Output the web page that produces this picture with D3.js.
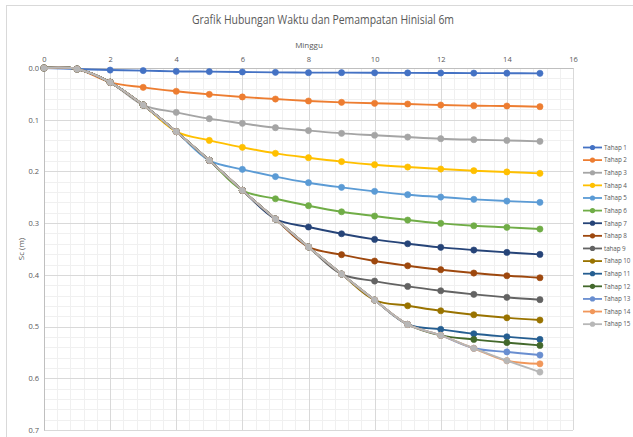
<!DOCTYPE html>
<html>
<head>
<meta charset="utf-8">
<script src="https://cdn.jsdelivr.net/npm/d3@7"></script>
<style>
  html, body { margin: 0; padding: 0; background: #fff; }
  svg { display: block; font-family: "Open Sans", "Noto Sans", sans-serif; }
</style>
</head>
<body>
<svg id="chart" width="633" height="437"></svg>
<script>
// Settlement (Sc, m) per loading stage over time (weeks)
const weeks = [0, 1, 2, 3, 4, 5, 6, 7, 8, 9, 10, 11, 12, 13, 14, 15];

const tahap1  = [0, 0.002, 0.004, 0.005, 0.0065, 0.007, 0.0077, 0.0084, 0.009, 0.009, 0.0093, 0.0095, 0.0097, 0.0099, 0.0100, 0.0103];
const tahap2  = [0, 0.002, 0.0277, 0.0374, 0.045, 0.051, 0.056, 0.060, 0.0638, 0.0664, 0.0683, 0.0696, 0.0716, 0.0729, 0.0735, 0.0748];
const tahap3  = [0, 0.002, 0.0277, 0.0716, 0.0858, 0.098, 0.107, 0.1154, 0.121, 0.1264, 0.130, 0.1335, 0.1367, 0.1386, 0.140, 0.1418];
const tahap4  = [0, 0.002, 0.0277, 0.0716, 0.123, 0.140, 0.1534, 0.165, 0.1735, 0.181, 0.187, 0.1915, 0.1954, 0.1986, 0.201, 0.2037];
const tahap5  = [0, 0.002, 0.0277, 0.0716, 0.123, 0.1786, 0.196, 0.210, 0.2218, 0.2308, 0.2385, 0.245, 0.2495, 0.254, 0.2573, 0.2598];
const tahap6  = [0, 0.002, 0.0277, 0.0716, 0.123, 0.1786, 0.2366, 0.2528, 0.2663, 0.278, 0.2863, 0.294, 0.3004, 0.305, 0.3081, 0.3114];
const tahap7  = [0, 0.002, 0.0277, 0.0716, 0.123, 0.1786, 0.2366, 0.292, 0.3075, 0.3205, 0.3314, 0.3398, 0.3468, 0.352, 0.3566, 0.3604];
const tahap8  = [0, 0.002, 0.0277, 0.0716, 0.123, 0.1786, 0.2366, 0.292, 0.346, 0.361, 0.3733, 0.3824, 0.390, 0.3965, 0.4017, 0.4056];
const tahap9  = [0, 0.002, 0.0277, 0.0716, 0.123, 0.1786, 0.2366, 0.292, 0.346, 0.3985, 0.412, 0.4223, 0.4307, 0.4377, 0.4435, 0.448];
const tahap10 = [0, 0.002, 0.0277, 0.0716, 0.123, 0.1786, 0.2366, 0.292, 0.346, 0.3985, 0.4487, 0.4597, 0.4694, 0.4771, 0.483, 0.4874];
const tahap11 = [0, 0.002, 0.0277, 0.0716, 0.123, 0.1786, 0.2366, 0.292, 0.346, 0.3985, 0.4487, 0.4958, 0.5054, 0.5139, 0.5197, 0.5248];
const tahap12 = [0, 0.002, 0.0277, 0.0716, 0.123, 0.1786, 0.2366, 0.292, 0.346, 0.3985, 0.4487, 0.4958, 0.517, 0.5248, 0.531, 0.5364];
const tahap13 = [0, 0.002, 0.0277, 0.0716, 0.123, 0.1786, 0.2366, 0.292, 0.346, 0.3985, 0.4487, 0.4958, 0.517, 0.542, 0.549, 0.5551];
const tahap14 = [0, 0.002, 0.0277, 0.0716, 0.123, 0.1786, 0.2366, 0.292, 0.346, 0.3985, 0.4487, 0.4958, 0.517, 0.542, 0.566, 0.572];
const tahap15 = [0, 0.002, 0.0277, 0.0716, 0.123, 0.1786, 0.2366, 0.292, 0.346, 0.3985, 0.4487, 0.4958, 0.517, 0.542, 0.566, 0.588];

const seriesNames = ["Tahap 1", "Tahap 2", "Tahap 3", "Tahap 4", "Tahap 5", "Tahap 6", "Tahap 7", "Tahap 8",
                     "tahap 9", "Tahap 10", "Tahap 11", "Tahap 12", "Tahap 13", "Tahap 14", "Tahap 15"];
const seriesValues = [tahap1, tahap2, tahap3, tahap4, tahap5, tahap6, tahap7, tahap8,
                      tahap9, tahap10, tahap11, tahap12, tahap13, tahap14, tahap15];
const seriesColors = ["#4472C4", "#ED7D31", "#A5A5A5", "#FFC000", "#5B9BD5", "#70AD47", "#264478", "#9E480E",
                      "#636363", "#997300", "#255E91", "#43682B", "#698ED0", "#F1975A", "#B7B7B7"];

const xTicks = [0, 2, 4, 6, 8, 10, 12, 14, 16];
const yTicks = [0, 0.1, 0.2, 0.3, 0.4, 0.5, 0.6, 0.7];

const titleText = "Grafik Hubungan Waktu dan Pemampatan Hinisial 6m";
const xTitle = "Minggu";
const yTitle = "Sc (m)";

const svg = d3.select("#chart");
const plot = { left: 44, right: 573, top: 68, bottom: 430 };

const x = d3.scaleLinear().domain([0, 16]).range([plot.left, plot.right]);
const y = d3.scaleLinear().domain([0, 0.7]).range([plot.top, plot.bottom]);

// chart frame lines
svg.append("line").attr("x1", 6).attr("x2", 633).attr("y1", 5.5).attr("y2", 5.5)
  .attr("stroke", "#d9d9d9").attr("stroke-width", 1);
svg.append("line").attr("x1", 6.5).attr("x2", 6.5).attr("y1", 5).attr("y2", 437)
  .attr("stroke", "#d9d9d9").attr("stroke-width", 1);

// minor grid
const grid = svg.append("g");
grid.selectAll("line.mx").data(d3.range(0, 16.001, 0.4)).join("line")
  .attr("x1", d => Math.round(x(d)) + 0.5).attr("x2", d => Math.round(x(d)) + 0.5)
  .attr("y1", plot.top).attr("y2", plot.bottom)
  .attr("stroke", "#f0f0f0");
grid.selectAll("line.my").data(d3.range(0, 0.7001, 0.02)).join("line")
  .attr("y1", d => Math.round(y(d)) + 0.5).attr("y2", d => Math.round(y(d)) + 0.5)
  .attr("x1", plot.left).attr("x2", plot.right)
  .attr("stroke", "#f0f0f0");

// major grid
grid.selectAll("line.Mx").data(xTicks).join("line")
  .attr("x1", d => Math.round(x(d)) + 0.5).attr("x2", d => Math.round(x(d)) + 0.5)
  .attr("y1", plot.top).attr("y2", plot.bottom)
  .attr("stroke", "#d9d9d9");
grid.selectAll("line.My").data(yTicks).join("line")
  .attr("y1", d => Math.round(y(d)) + 0.5).attr("y2", d => Math.round(y(d)) + 0.5)
  .attr("x1", plot.left).attr("x2", plot.right)
  .attr("stroke", "#d9d9d9");

// axes (x along the top, y reversed downward)
const xAxis = svg.append("g").attr("transform", `translate(0,${plot.top})`)
  .call(d3.axisTop(x).tickValues(xTicks).tickSize(0).tickPadding(6).tickFormat(d3.format("d")));
const yAxis = svg.append("g").attr("transform", `translate(${plot.left},0)`)
  .call(d3.axisLeft(y).tickValues(yTicks).tickSize(0).tickPadding(5).tickFormat(d3.format(".1f")));
[xAxis, yAxis].forEach(a => {
  a.select(".domain").attr("stroke", "#bfbfbf");
  a.selectAll("text").attr("fill", "#595959").style("font-size", "7.5px")
    .style("font-family", "'Open Sans', sans-serif");
});

// titles
svg.append("text").attr("x", 323).attr("y", 24).attr("text-anchor", "middle")
  .attr("fill", "#595959").style("font-size", "13px")
  .attr("textLength", 262).attr("lengthAdjust", "spacingAndGlyphs")
  .text(titleText);
svg.append("text").attr("x", 309).attr("y", 48).attr("text-anchor", "middle")
  .attr("fill", "#595959").style("font-size", "8px").text(xTitle);
svg.append("text").attr("transform", `translate(24,${(plot.top + plot.bottom) / 2}) rotate(-90)`)
  .attr("text-anchor", "middle").attr("fill", "#595959").style("font-size", "8px").text(yTitle);

// series lines and markers
const line = d3.line()
  .x((d, i) => x(weeks[i]))
  .y(d => y(d))
  .curve(d3.curveCatmullRom.alpha(0.5));

const series = svg.append("g");
seriesValues.forEach((vals, k) => {
  const g = series.append("g");
  g.append("path").attr("d", line(vals)).attr("fill", "none")
    .attr("stroke", seriesColors[k]).attr("stroke-width", 1.9);
  g.selectAll("circle").data(vals).join("circle")
    .attr("cx", (d, i) => x(weeks[i])).attr("cy", d => y(d)).attr("r", 3.1)
    .attr("fill", seriesColors[k]).attr("stroke", seriesColors[k]).attr("stroke-width", 0.6);
});

// legend
const legend = svg.append("g").attr("transform", "translate(583,147.5)");
seriesNames.forEach((name, k) => {
  const row = legend.append("g").attr("transform", `translate(0,${k * 12.62})`);
  row.append("line").attr("x1", 0).attr("x2", 19).attr("y1", 0).attr("y2", 0)
    .attr("stroke", seriesColors[k]).attr("stroke-width", 1.8);
  row.append("circle").attr("cx", 9.5).attr("cy", 0).attr("r", 2.6).attr("fill", seriesColors[k]);
  row.append("text").attr("x", 21).attr("y", 2.3).attr("fill", "#595959")
    .style("font-size", "6.3px").style("letter-spacing", "-0.1px").text(name);
});
</script>
</body>
</html>
